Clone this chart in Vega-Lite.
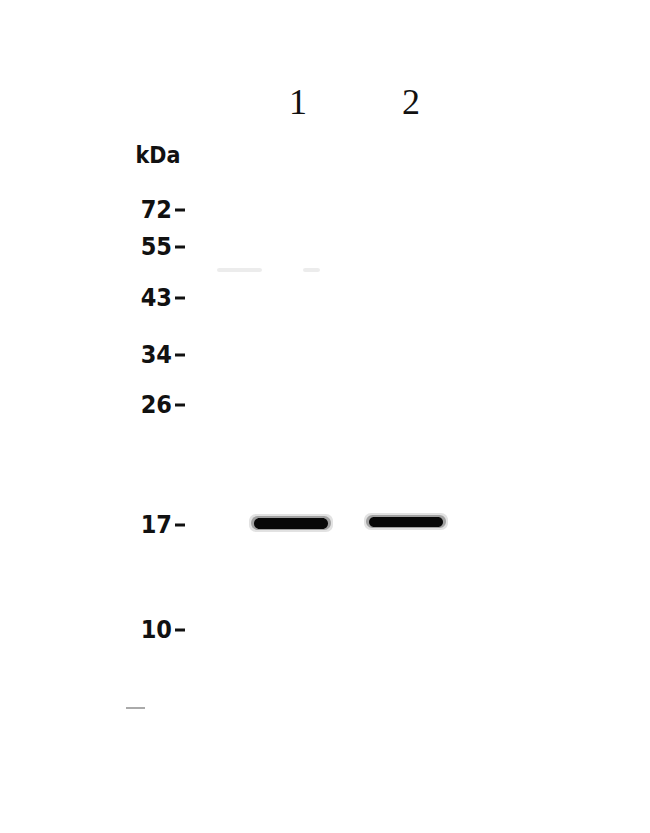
{
  "$schema": "https://vega.github.io/schema/vega-lite/v6.json",
  "width": 650,
  "height": 833,
  "autosize": "none",
  "padding": 0,
  "background": "white",
  "config": {"view": {"stroke": null}},
  "datasets": {
    "lanes": [
      {"lane": "1", "pos": 298},
      {"lane": "2", "pos": 411}
    ],
    "markers": [
      {"kDa": "72", "mig": 210},
      {"kDa": "55", "mig": 247},
      {"kDa": "43", "mig": 298},
      {"kDa": "34", "mig": 355},
      {"kDa": "26", "mig": 405},
      {"kDa": "17", "mig": 525},
      {"kDa": "10", "mig": 630}
    ],
    "bands": [
      {"lane": "1", "left": 249, "right": 333, "top": 514, "bottom": 532, "signal": 0.12},
      {"lane": "2", "left": 364, "right": 448, "top": 513, "bottom": 530, "signal": 0.12},
      {"lane": "1", "left": 251, "right": 331, "top": 516, "bottom": 530, "signal": 0.3},
      {"lane": "2", "left": 366, "right": 446, "top": 515, "bottom": 528, "signal": 0.3},
      {"lane": "1", "left": 254, "right": 328, "top": 518, "bottom": 529, "signal": 1.0},
      {"lane": "2", "left": 369, "right": 443, "top": 517, "bottom": 527, "signal": 1.0},
      {"lane": "1", "left": 217, "right": 262, "top": 268, "bottom": 272, "signal": 0.08},
      {"lane": "1", "left": 303, "right": 320, "top": 268, "bottom": 272, "signal": 0.08}
    ]
  },
  "layer": [
    {
      "data": {"name": "bands"},
      "mark": {"type": "rect", "cornerRadius": 7, "color": "#000000"},
      "encoding": {
        "x": {"field": "left", "type": "quantitative", "scale": {"domain": [0, 650], "nice": false, "zero": false}, "axis": null},
        "x2": {"field": "right"},
        "y": {"field": "top", "type": "quantitative", "scale": {"domain": [0, 833], "nice": false, "zero": false, "reverse": true}, "axis": null},
        "y2": {"field": "bottom"},
        "opacity": {"field": "signal", "type": "quantitative", "scale": {"domain": [0, 1], "range": [0, 0.95]}, "legend": null}
      }
    },
    {
      "data": {"name": "lanes"},
      "mark": {"type": "text", "font": "Liberation Serif", "fontSize": 36, "color": "#111111", "baseline": "middle"},
      "encoding": {
        "x": {"field": "pos", "type": "quantitative"},
        "y": {"datum": 103},
        "text": {"field": "lane"}
      }
    },
    {
      "data": {"values": [{"unit": "kDa"}]},
      "mark": {"type": "text", "font": "DejaVu Sans Condensed", "fontWeight": "bold", "fontSize": 23, "color": "#111111", "baseline": "middle", "align": "center"},
      "encoding": {
        "x": {"datum": 158},
        "y": {"datum": 156},
        "text": {"field": "unit"}
      }
    },
    {
      "data": {"name": "markers"},
      "mark": {"type": "text", "font": "DejaVu Sans Condensed", "fontWeight": "bold", "fontSize": 25, "color": "#111111", "baseline": "middle", "align": "right"},
      "encoding": {
        "x": {"datum": 172},
        "y": {"field": "mig", "type": "quantitative"},
        "text": {"field": "kDa"}
      }
    },
    {
      "data": {"name": "markers"},
      "mark": {"type": "rule", "strokeWidth": 3, "color": "#111111"},
      "encoding": {
        "x": {"datum": 175},
        "x2": {"datum": 185},
        "y": {"field": "mig", "type": "quantitative"}
      }
    },
    {
      "data": {"values": [{"note": "edge", "a": 126, "b": 145, "pos": 708}]},
      "mark": {"type": "rule", "strokeWidth": 2, "color": "#aaaaaa"},
      "encoding": {
        "x": {"field": "a", "type": "quantitative"},
        "x2": {"field": "b"},
        "y": {"field": "pos", "type": "quantitative"}
      }
    }
  ]
}
